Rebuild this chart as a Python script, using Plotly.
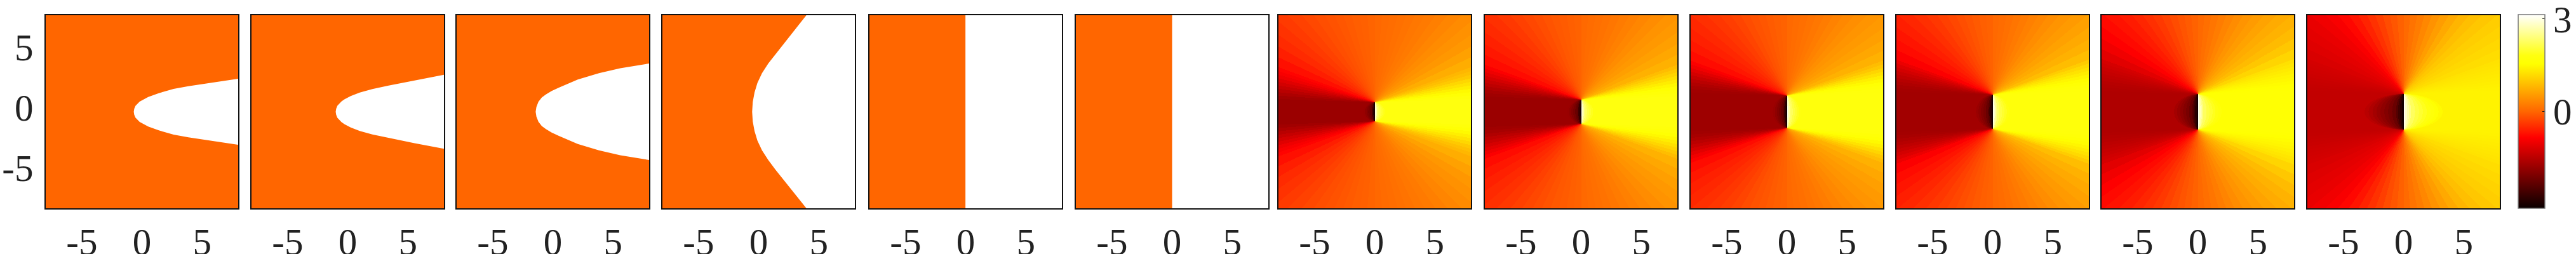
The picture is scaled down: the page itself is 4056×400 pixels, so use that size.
import numpy as np
import plotly.graph_objects as go

TICK_VALUES = [-5, 0, 5]
TICK_LABELS = ["-5", "0", "5"]
CBAR_TICK_VALUES = [0, 3]
CBAR_TICK_LABELS = ["0", "3"]
VALUE_MIN = -3.1416
VALUE_MAX = 3.1416

PANEL_LEFT = [72, 396, 719, 1043, 1369, 1694, 2013, 2338, 2662, 2986, 3309, 3633]
PANEL_WIDTH = 303
PANEL_TOP = 24
PANEL_BOTTOM = 328

BOUNDARY_X_1 = [-.68, -.64, -.54, -.19, .52, 1.4, 2.63, 3.86, 5.27, 6.68, 8]
BOUNDARY_Y_1 = [0, .25, .49, .84, 1.23, 1.54, 1.89, 2.12, 2.33, 2.56, 2.74]
BOUNDARY_X_2 = [-1, -.96, -.86, -.52, -.28, .25, 1, 2.05, 3.4, 5.55, 8]
BOUNDARY_Y_2 = [0, .25, .5, .85, 1.03, 1.3, 1.59, 1.88, 2.17, 2.6, 3.06]
BOUNDARY_X_3 = [-1.43, -1.37, -1.2, -.92, -.58, -.1, .5, 2.07, 3.83, 5.6, 8]
BOUNDARY_Y_3 = [0, .4, .83, 1.18, 1.44, 1.72, 2.0, 2.67, 3.2, 3.6, 4]
BOUNDARY_X_4 = [-.54, -.49, -.34, -.1, .28, .8, 1.4, 2.05, 2.7, 3.33, 3.97]
BOUNDARY_Y_4 = [0, .8, 1.6, 2.4, 3.2, 4, 4.8, 5.6, 6.4, 7.2, 8]
BOUNDARY_X_5 = [-.02, -.02]
BOUNDARY_Y_5 = [0, 8]
BOUNDARY_X_6 = [0, 0]
BOUNDARY_Y_6 = [0, 8]
BOUNDARIES = [(BOUNDARY_X_1, BOUNDARY_Y_1), (BOUNDARY_X_2, BOUNDARY_Y_2), (BOUNDARY_X_3, BOUNDARY_Y_3),
              (BOUNDARY_X_4, BOUNDARY_Y_4), (BOUNDARY_X_5, BOUNDARY_Y_5), (BOUNDARY_X_6, BOUNDARY_Y_6)]

# Panels 7-12: value per angular sector, from the +x direction to the +y direction,
# read from the colours; left half and lower half are the mirrored fan.
SECTOR_EDGES = [2, 4, 6, 8, 10, 12, 14, 16, 18, 20, 25, 30, 35, 40, 45, 50, 55, 60, 65, 70, 75, 80, 85]
SECTORS_7 = [1.78, 1.72, 1.62, 1.5, 1.38, 1.26, 1.14, 1.0, .9, .82, .72, .6, .5, .43, .37, .31, .25, .2, .17, .13, .1, .07, .05, .02]
SECTORS_8 = [1.78, 1.74, 1.67, 1.58, 1.47, 1.36, 1.24, 1.12, 1.0, .88, .76, .66, .58, .51, .45, .38, .32, .26, .21, .16, .12, .09, .06, .03]
SECTORS_9 = [1.76, 1.73, 1.67, 1.59, 1.49, 1.38, 1.25, 1.12, .98, .88, .76, .66, .58, .52, .46, .4, .34, .28, .22, .17, .13, .09, .06, .03]
SECTORS_10 = [1.72, 1.7, 1.66, 1.6, 1.53, 1.45, 1.36, 1.26, 1.16, 1.03, .88, .76, .68, .6, .53, .46, .39, .32, .26, .2, .15, .1, .06, .03]
SECTORS_11 = [1.6, 1.58, 1.55, 1.52, 1.48, 1.44, 1.39, 1.34, 1.29, 1.24, 1.12, .98, .86, .77, .7, .62, .54, .46, .38, .3, .22, .15, .09, .03]
SECTORS_12 = [1.42, 1.41, 1.39, 1.37, 1.35, 1.33, 1.31, 1.29, 1.27, 1.25, 1.2, 1.15, 1.1, 1.05, .98, .9, .8, .68, .56, .44, .33, .22, .13, .04]
FIELD_SECTORS = [SECTORS_7, SECTORS_8, SECTORS_9, SECTORS_10, SECTORS_11, SECTORS_12]

SLIT_HALF_HEIGHT = [.78, .99, 1.33, 1.4, 1.46, 1.48]
LOBE_LENGTH = [1.4, 1.7, 1.7, 2.0, 2.5, 3.25]
LOBE_EDGES = [.05, .1, .15, .2, .3, .4, .5, .6, .7, .8, .9]
LOBE_VALUES = [3.05, 2.85, 2.65, 2.45, 2.25, 2.1, 2.0, 1.9, 1.8, 1.7, 1.6, 1.5]

COLORSCALE = [[0, "#0A0000"], [.365, "#FF0000"], [.5, "#FF6600"], [.746, "#FFFF00"],
              [.79, "#FFFF10"], [1, "#FFFFFF"]]
ORANGE = "#FF6600"
FONT = dict(family="Liberation Serif", size=59, color="#222222")

W, H = 4056, 400
fig = go.Figure()


def panel_field(sectors, a, length):
    edges = np.linspace(-8, 8, 305)
    c = (edges[:-1] + edges[1:]) / 2
    x, y = np.meshgrid(c, c)
    ay = np.abs(y)
    ax = np.abs(x)
    theta = np.degrees(np.arctan2(np.maximum(ay - a, 0), ax))
    z = np.array(sectors)[np.searchsorted(SECTOR_EDGES, theta)]
    half_width = length * np.sqrt(np.maximum(1 - (y / a) ** 2, 1e-6))
    rho = ax / half_width
    lobe = np.array(LOBE_VALUES)[np.searchsorted(LOBE_EDGES, np.minimum(rho, .999))]
    z = np.where((rho < 1) & (ay < a), np.maximum(lobe, sectors[0]), z)
    z = np.where((x < 0), -z, z)
    return c, np.round(z, 2)


for i, left in enumerate(PANEL_LEFT):
    n = i + 1
    xa = f"x{n}" if n > 1 else "x"
    ya = f"y{n}" if n > 1 else "y"
    if i < 6:
        bx, by = BOUNDARIES[i]
        ux = list(reversed(bx))
        uy = list(reversed(by))
        lx = bx[1:]
        ly = [-v for v in by[1:]]
        px = [-8] + ([8] if ux[0] == 8 else []) + ux + lx + ([8] if lx[-1] == 8 else []) + [-8, -8]
        py = [8] + ([8] if ux[0] == 8 else []) + uy + ly + ([-8] if lx[-1] == 8 else []) + [-8, 8]
        fig.add_trace(go.Scatter(x=px, y=py, mode="lines", fill="toself", fillcolor=ORANGE,
                                 line=dict(width=0, color=ORANGE), showlegend=False, hoverinfo="skip",
                                 xaxis=xa, yaxis=ya))
    else:
        c, z = panel_field(FIELD_SECTORS[i - 6], SLIT_HALF_HEIGHT[i - 6], LOBE_LENGTH[i - 6])
        fig.add_trace(go.Heatmap(x=c, y=c, z=z, coloraxis="coloraxis", xaxis=xa, yaxis=ya, hoverinfo="skip"))
    axis = dict(range=[-8, 8], tickmode="array", tickvals=TICK_VALUES, ticktext=TICK_LABELS,
                showgrid=False, zeroline=False, showline=True, mirror=True, linecolor="#111111",
                linewidth=1.6, ticks="", tickfont=FONT)
    xname = "xaxis" if n == 1 else f"xaxis{n}"
    yname = "yaxis" if n == 1 else f"yaxis{n}"
    fig.update_layout({
        xname: dict(axis, domain=[left / W, (left + PANEL_WIDTH) / W], anchor=ya, ticklabelstandoff=0),
        yname: dict(axis, domain=[1 - PANEL_BOTTOM / H, 1 - PANEL_TOP / H], anchor=xa,
                    showticklabels=(i == 0), ticklabelshift=-7, ticklabelstandoff=6),
    })

fig.update_layout(
    width=W, height=H, margin=dict(l=0, r=0, t=0, b=0, pad=0, autoexpand=False),
    paper_bgcolor="white", plot_bgcolor="white", showlegend=False,
    coloraxis=dict(cmin=VALUE_MIN, cmax=VALUE_MAX, colorscale=COLORSCALE,
                   colorbar=dict(x=3965 / W, xanchor="left", xref="paper", y=1 - 23 / H, yanchor="top",
                                 len=305 / H, lenmode="fraction", thickness=42, thicknessmode="pixels",
                                 xpad=0, ypad=0, outlinecolor="#777777", outlinewidth=1.5,
                                 tickmode="array", tickvals=CBAR_TICK_VALUES, ticktext=CBAR_TICK_LABELS,
                                 ticklabeloverflow="allow",
                                 ticks="inside", ticklen=4, tickcolor="#111111", tickfont=FONT)),
)
fig.write_html("out.html", config=dict(displayModeBar=False), post_script="document.body.style.margin='0';")
